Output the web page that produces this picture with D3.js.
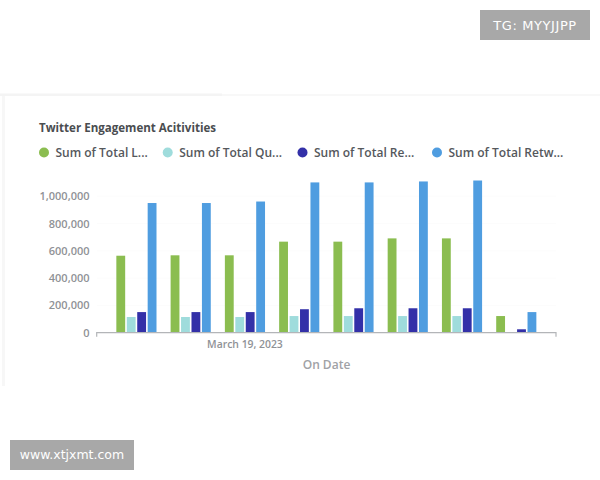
<!DOCTYPE html>
<html><head><meta charset="utf-8">
<script src="https://cdn.jsdelivr.net/npm/d3@7/dist/d3.min.js"></script>
<style>html,body{margin:0;padding:0;background:#fff}svg{display:block}text{font-family:"Open Sans","Noto Sans",sans-serif}</style>
</head><body><svg id="c" width="600" height="480"></svg>
<script>
const categories=["March 17, 2023","March 18, 2023","March 19, 2023","March 20, 2023","March 21, 2023","March 22, 2023","March 23, 2023","March 24, 2023"];
const seriesNames=["Sum of Total L...","Sum of Total Qu...","Sum of Total Re...","Sum of Total Retw..."];
const seriesColors=["#8bbd50","#9fdcdc","#3330a8","#4f9de0"];
const likes=[564000,567000,567000,667000,667000,691000,691000,122000];
const quotes=[115000,115000,115000,122000,122000,122000,122000,2000];
const replies=[151000,151000,151000,172000,179000,179000,179000,25000];
const retweets=[950000,950000,961000,1101000,1101000,1108000,1115000,151000];
const yTicks=[0,200000,400000,600000,800000,1000000];
const xTicks=["March 19, 2023"];
const legendX=[44,167.7,302.5,437];
const series=[likes,quotes,replies,retweets];
const svg=d3.select("#c");
// card edges
svg.append("rect").attr("x",0).attr("y",93.5).attr("width",222).attr("height",2.5).attr("fill","#f4f4f4");
svg.append("rect").attr("x",222).attr("y",94).attr("width",378).attr("height",2).attr("fill","#f8f8f8");
svg.append("rect").attr("x",2).attr("y",96).attr("width",3).attr("height",290).attr("fill","#f7f7f7");
const x=d3.scaleBand().domain(categories).range([96.7,556]).paddingInner(0.26).paddingOuter(0.362);
const xi=d3.scaleBand().domain(d3.range(4)).range([0,x.bandwidth()]).paddingInner(0.154);
const y=d3.scaleLinear().domain([0,1000000]).range([332.7,196.2]);
// faint grid
svg.append("g").selectAll("line").data(yTicks.slice(1)).join("line")
 .attr("x1",97).attr("x2",556).attr("y1",d=>y(d)).attr("y2",d=>y(d)).attr("stroke","#fcfcfc");
// bars
svg.append("g").selectAll("g").data(series).join("g").attr("fill",(d,i)=>seriesColors[i])
 .each(function(vals,si){
  d3.select(this).selectAll("rect").data(vals).join("rect")
   .attr("x",(d,i)=>x(categories[i])+xi(si)).attr("width",xi.bandwidth())
   .attr("y",d=>y(d)).attr("height",d=>y(0)-y(d));
 });
// y axis
const yAxis=svg.append("g").attr("transform","translate(89.5,0)")
 .call(d3.axisLeft(y).tickValues(yTicks).tickSize(0).tickPadding(0).tickFormat(d3.format(",")));
yAxis.select(".domain").remove();
yAxis.selectAll("text").attr("font-size",11).attr("font-weight",600).attr("fill","#8f9296").attr("dy","0.32em").style("font-family",'"Open Sans",sans-serif');
// x axis
const xAxis=svg.append("g").attr("transform","translate(0,332.7)")
 .call(d3.axisBottom(x).tickValues(xTicks).tickSize(0).tickPadding(8));
xAxis.select(".domain").attr("stroke","#b3b5b8").attr("stroke-width",1.2).attr("d","M96.7,4V0H556V4");
xAxis.selectAll("text").attr("font-size",10.4).attr("font-weight",600).attr("fill","#8f9296").style("font-family",'"Open Sans",sans-serif');
svg.append("text").attr("x",326.5).attr("y",369).attr("text-anchor","middle").attr("font-size",12).attr("font-weight",600).attr("fill","#a0a2a6").text("On Date");
// title
svg.append("text").attr("x",39).attr("y",132).attr("font-size",11.55).attr("font-weight",700).attr("fill","#4a4d50").text("Twitter Engagement Acitivities");
// legend
const lg=svg.append("g").selectAll("g").data(seriesNames).join("g").attr("transform",(d,i)=>`translate(${legendX[i]},152.5)`);
lg.append("circle").attr("r",5).attr("fill",(d,i)=>seriesColors[i]);
lg.append("text").attr("x",11.5).attr("dy","0.35em").attr("font-size",12).attr("font-weight",600).attr("fill","#55585c").text(d=>d);
// watermarks
svg.append("rect").attr("x",480).attr("y",10).attr("width",110).attr("height",30).attr("fill","#a8a8a8");
svg.append("text").attr("x",535).attr("y",30).attr("text-anchor","middle").attr("font-size",13).attr("letter-spacing",0.6).attr("fill","#fff").style("font-family",'"DejaVu Sans",sans-serif').text("TG: MYYJJPP");
svg.append("rect").attr("x",10).attr("y",440).attr("width",124).attr("height",30).attr("fill","#a8a8a8");
svg.append("text").attr("x",72).attr("y",459).attr("text-anchor","middle").attr("font-size",12.5).attr("fill","#fff").style("font-family",'"DejaVu Sans",sans-serif').text("www.xtjxmt.com");
</script></body></html>
